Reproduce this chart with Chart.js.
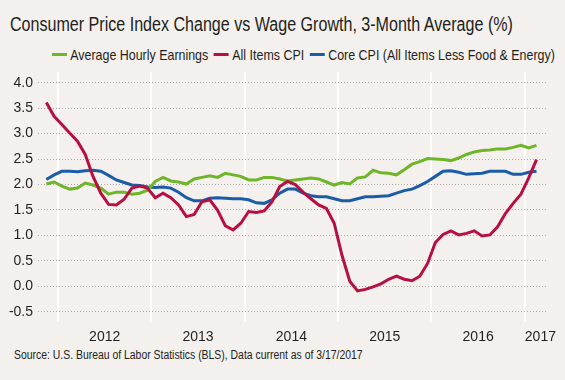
<!DOCTYPE html>
<html>
<head>
<meta charset="utf-8">
<script src="https://cdn.jsdelivr.net/npm/chart.js@4.4.1/dist/chart.umd.min.js"></script>
<style>
  html, body { margin: 0; padding: 0; }
  body {
    width: 565px; height: 380px; position: relative; overflow: hidden;
    background: #f3f0ed; color: #231f20;
    font-family: "Liberation Sans", Arial, sans-serif;
  }
  .fit { position: absolute; white-space: nowrap; transform-origin: 0 0; }
  #title { left: 10px; top: 14px; font-size: 20px; line-height: 20px; }
  #legend { left: 52px; top: 47px; font-size: 15px; line-height: 15px; display: flex; }
  #legend .item { display: flex; align-items: center; margin-right: 7px; }
  #legend .swatch { width: 18px; height: 3px; margin-right: 4px; }
  #source { left: 14px; top: 349px; font-size: 12px; line-height: 12px; }
  canvas { position: absolute; left: 0; top: 0; }
</style>
</head>
<body>
<div id="title" class="fit">Consumer Price Index Change vs Wage Growth, 3-Month Average (%)</div>
<div id="legend" class="fit"></div>
<div id="source" class="fit">Source: U.S. Bureau of Labor Statistics (BLS), Data current as of 3/17/2017</div>
<canvas id="chart" width="565" height="380"></canvas>

<script>
// monthly points, Nov 2011 .. Feb 2017
const firstYear = 2011;
const firstMonth = 11;

const seriesNames = ['Average Hourly Earnings', 'All Items CPI', 'Core CPI (All Items Less Food & Energy)'];
const seriesColors = ['#6fb52a', '#b70f40', '#1b5ca6'];

const earnings = [
  2.01, 2.05, 1.97, 1.91, 1.93, 2.03, 1.99, 1.93, 1.81, 1.85, 1.85, 1.81,
  1.83, 1.89, 2.06, 2.14, 2.07, 2.05, 2.01, 2.11, 2.14, 2.17, 2.14, 2.22,
  2.19, 2.16, 2.09, 2.09, 2.14, 2.14, 2.11, 2.07, 2.09, 2.11, 2.13, 2.11,
  2.05, 1.99, 2.04, 2.01, 2.13, 2.15, 2.28, 2.23, 2.22, 2.19, 2.29, 2.40,
  2.45, 2.51, 2.50, 2.49, 2.47, 2.52, 2.59, 2.64, 2.67, 2.68, 2.70, 2.70,
  2.73, 2.77, 2.72, 2.77
];
const allItems = [
  3.61, 3.34, 3.18, 3.01, 2.85, 2.59, 2.16, 1.83, 1.61, 1.60, 1.71, 1.93,
  1.97, 1.93, 1.74, 1.83, 1.74, 1.60, 1.37, 1.41, 1.66, 1.70, 1.50, 1.19,
  1.11, 1.24, 1.47, 1.45, 1.48, 1.66, 1.96, 2.06, 2.00, 1.85, 1.72, 1.60,
  1.53, 1.24, 0.61, 0.10, -0.09, -0.06, -0.01, 0.05, 0.14, 0.20, 0.14, 0.11,
  0.20, 0.45, 0.86, 1.02, 1.09, 1.01, 1.04, 1.09, 0.99, 1.01, 1.17, 1.43,
  1.63, 1.81, 2.13, 2.49
];
const coreCpi = [
  2.10, 2.19, 2.26, 2.26, 2.25, 2.27, 2.28, 2.26, 2.18, 2.09, 2.04, 1.99,
  1.98, 1.95, 1.94, 1.95, 1.93, 1.85, 1.74, 1.68, 1.68, 1.73, 1.74, 1.73,
  1.72, 1.72, 1.70, 1.64, 1.63, 1.70, 1.83, 1.91, 1.91, 1.83, 1.78, 1.76,
  1.76, 1.72, 1.68, 1.68, 1.72, 1.76, 1.76, 1.77, 1.78, 1.83, 1.88, 1.91,
  1.98, 2.06, 2.16, 2.26, 2.27, 2.24, 2.20, 2.21, 2.22, 2.26, 2.26, 2.26,
  2.20, 2.20, 2.24, 2.26
];

const years = ['2012', '2013', '2014', '2015', '2016', '2017'];
const yTicks = [-0.5, 0.0, 0.5, 1.0, 1.5, 2.0, 2.5, 3.0, 3.5, 4.0];

// x axis unit = months since Jan 2012, points sit mid-month
const xStart = (firstYear - 2012) * 12 + (firstMonth - 1);
const toPoints = arr => arr.map((v, i) => ({ x: xStart + i + 0.5, y: v }));

const yearEdges = years.map((y, i) => i * 12);
const yearLabelPos = years.map((y, i) => i < years.length - 1 ? i * 12 + 6 : i * 12 + 2);

// legend
const legendEl = document.getElementById('legend');
seriesNames.forEach((name, i) => {
  const item = document.createElement('div');
  item.className = 'item';
  item.innerHTML = `<span class="swatch" style="background:${seriesColors[i]}"></span><span>${name.replace('&', '&amp;')}</span>`;
  legendEl.appendChild(item);
});

// squeeze text into the narrow look of the original
function fitWidth(id, width) {
  const el = document.getElementById(id);
  el.style.transform = `scaleX(${width / el.scrollWidth})`;
}
fitWidth('title', 503);
fitWidth('legend', 509);
fitWidth('source', 349);

const tickFont = { family: '"Liberation Sans", Arial, sans-serif', size: 14 };

new Chart(document.getElementById('chart'), {
  type: 'line',
  data: {
    datasets: [
      { label: seriesNames[0], data: toPoints(earnings), borderColor: seriesColors[0], order: 2 },
      { label: seriesNames[1], data: toPoints(allItems), borderColor: seriesColors[1], order: 1 },
      { label: seriesNames[2], data: toPoints(coreCpi), borderColor: seriesColors[2], order: 3 }
    ]
  },
  options: {
    responsive: false,
    animation: false,
    devicePixelRatio: 1,
    layout: { padding: { top: 72, right: 18, left: 0, bottom: 0 } },
    elements: {
      line: { borderWidth: 3, tension: 0, fill: false },
      point: { radius: 0 }
    },
    plugins: { legend: { display: false }, tooltip: { enabled: false } },
    scales: {
      x: {
        type: 'linear',
        min: -2.57,
        max: 62.85,
        afterBuildTicks: s => {
          s.ticks = [...yearEdges, ...yearLabelPos].sort((a, b) => a - b).map(v => ({ value: v }));
        },
        afterFit: s => { s.height = 58; },
        border: { display: false },
        grid: {
          drawTicks: false,
          lineWidth: 2,
          color: ctx => yearEdges.includes(ctx.tick && ctx.tick.value) ? '#ffffff' : 'rgba(0,0,0,0)'
        },
        ticks: {
          autoSkip: false,
          maxRotation: 0,
          padding: 7,
          color: '#231f20',
          font: tickFont,
          callback: v => {
            const i = yearLabelPos.indexOf(v);
            return i >= 0 ? years[i] : '';
          }
        }
      },
      y: {
        min: -0.7,
        max: 4.21,
        afterBuildTicks: s => { s.ticks = yTicks.map(v => ({ value: v })); },
        afterFit: s => { s.width = 38; },
        border: { display: false, dash: [1, 2] },
        grid: { drawTicks: false, color: '#aaa7a4', lineWidth: 1 },
        ticks: {
          padding: 5,
          color: '#231f20',
          font: tickFont,
          callback: v => v.toFixed(1)
        }
      }
    }
  }
});
</script>
</body>
</html>
